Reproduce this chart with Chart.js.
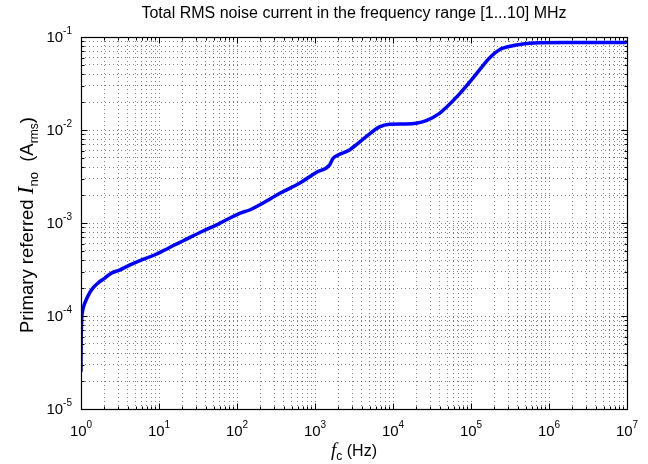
<!DOCTYPE html>
<html>
<head>
<meta charset="utf-8">
<script src="https://cdn.jsdelivr.net/npm/chart.js@4/dist/chart.umd.min.js"></script>
<style>
  html, body { margin: 0; padding: 0; background: #fff; }
  #c { display: block; }
</style>
</head>
<body>
<canvas id="c" width="648" height="464"></canvas>
<script>
// cutoff frequency (Hz) and total rms noise current (A rms)
const freqHz = [1, 1.005, 1.015, 1.055, 1.14, 1.28, 1.42, 1.64, 2.0, 2.44, 3.12, 4.19, 5.91, 8.75,
  11.8, 15.8, 20.2, 35, 54, 108, 145, 386, 632, 1036, 1535, 1690, 1900, 2767, 4530, 6714, 9020,
  14000, 19800, 26650, 39500, 48100, 71300, 105400, 141600, 172600, 231800, 343600, 562000,
  758000, 1.5e6, 3e6, 6e6, 9.5e6, 1e7];
const noiseArms = [2.52e-5, 5.0e-5, 8.3e-5, 1.16e-4, 1.43e-4, 1.75e-4, 1.99e-4, 2.25e-4, 2.54e-4, 2.88e-4,
  3.12e-4, 3.53e-4, 4.0e-4, 4.53e-4, 5.12e-4, 5.8e-4, 6.4e-4, 8.05e-4, 9.5e-4, 1.27e-3, 1.38e-3, 2.17e-3,
  2.67e-3, 3.5e-3, 4.2e-3, 4.9e-3, 5.3e-3, 6.1e-3, 8.47e-3, 1.08e-2, 1.15e-2, 1.16e-2, 1.18e-2,
  1.26e-2, 1.51e-2, 1.75e-2, 2.45e-2, 3.6e-2, 4.9e-2, 5.95e-2, 7.3e-2, 8.05e-2, 8.55e-2, 8.68e-2,
  8.72e-2, 8.72e-2, 8.72e-2, 8.75e-2, 9.0e-2];

const xExponents = [0, 1, 2, 3, 4, 5, 6, 7];
const yExponents = [-5, -4, -3, -2, -1];
const titleText = "Total RMS noise current in the frequency range [1...10] MHz";

const SANS = '"Liberation Sans", Arial, sans-serif';
const SERIF = '"Liberation Serif", "Times New Roman", serif';

// 1..9 x 10^n ticks so every minor grid line shows up
function logTicks(lo, hi) {
  const out = [];
  for (let e = lo; e < hi; e++) {
    for (let m = 1; m <= 9; m++) out.push({ value: m * Math.pow(10, e) });
  }
  out.push({ value: Math.pow(10, hi) });
  return out;
}
const isPow10 = v => Math.abs(Math.log10(v) - Math.round(Math.log10(v))) < 1e-9;

const gridOpts = {
  color: 'rgba(0,0,0,0.5)',
  lineWidth: 1,
  drawTicks: false
};

// text runs: [text, font, baseline shift]
function drawRuns(ctx, runs, x, y) {
  let cx = x;
  runs.forEach(([txt, font, dy]) => {
    ctx.font = font;
    ctx.fillText(txt, cx, y + dy);
    cx += ctx.measureText(txt).width;
  });
}
function runsWidth(ctx, runs) {
  let w = 0;
  runs.forEach(([txt, font]) => { ctx.font = font; w += ctx.measureText(txt).width; });
  return w;
}

const deco = {
  id: 'deco',
  afterDraw(chart) {
    const { ctx, chartArea: a, scales: { x, y } } = chart;
    const L = Math.round(a.left) + 0.5, R = Math.round(a.right) + 0.5;
    const T = Math.round(a.top) + 0.5, B = Math.round(a.bottom) + 0.5;
    ctx.save();
    ctx.strokeStyle = '#000';
    ctx.lineWidth = 1;
    ctx.beginPath();
    x.ticks.forEach(t => {
      const px = Math.round(x.getPixelForValue(t.value)) + 0.5;
      const len = isPow10(t.value) ? 6 : 3;
      ctx.moveTo(px, B); ctx.lineTo(px, B - len);
      ctx.moveTo(px, T); ctx.lineTo(px, T + len);
    });
    y.ticks.forEach(t => {
      const py = Math.round(y.getPixelForValue(t.value)) + 0.5;
      const len = isPow10(t.value) ? 6 : 3;
      ctx.moveTo(L, py); ctx.lineTo(L + len, py);
      ctx.moveTo(R, py); ctx.lineTo(R - len, py);
    });
    ctx.stroke();
    ctx.lineWidth = 1.2;
    ctx.strokeRect(L, T, R - L, B - T);

    ctx.fillStyle = '#000';
    ctx.textAlign = 'left';
    ctx.textBaseline = 'alphabetic';
    const bigF = '15px ' + SANS, supF = '10px ' + SANS;

    // x tick labels 10^n
    xExponents.forEach(e => {
      const px = x.getPixelForValue(Math.pow(10, e));
      const runs = [['10', bigF, 0], [String(e), supF, -8]];
      const w = runsWidth(ctx, runs);
      drawRuns(ctx, runs, px - w / 2, 436);
    });
    // y tick labels 10^n
    yExponents.forEach(e => {
      const py = y.getPixelForValue(Math.pow(10, e));
      const runs = [['10', bigF, 0], [String(e), supF, -8]];
      const w = runsWidth(ctx, runs);
      drawRuns(ctx, runs, a.left - 9 - w, py + 5);
    });

    // title
    ctx.font = '16px ' + SANS;
    ctx.textAlign = 'center';
    ctx.fillText(titleText, (a.left + a.right) / 2, 18);
    ctx.textAlign = 'left';

    // x label: f_c (Hz)
    const xl = [['f', 'italic 19px ' + SERIF, 0], ['c', '12px ' + SANS, 4], [' (Hz)', '16px ' + SANS, 0]];
    const xw = runsWidth(ctx, xl);
    drawRuns(ctx, xl, (a.left + a.right) / 2 - xw / 2, 456);

    // y label: Primary referred I_no (A_rms), starting near the bottom like the original
    const yl = [['Primary referred ', '18.5px ' + SANS, 0], ['I', 'italic 23px ' + SERIF, 0],
      ['no', '13px ' + SANS, 5], ['  (A', '18.5px ' + SANS, 0], ['rms', '12px ' + SANS, 5], [')', '18.5px ' + SANS, 0]];
    ctx.translate(33, 333);
    ctx.rotate(-Math.PI / 2);
    drawRuns(ctx, yl, 0, 0);
    ctx.restore();
  }
};

new Chart(document.getElementById('c'), {
  type: 'line',
  data: {
    datasets: [{
      data: freqHz.map((f, i) => ({ x: f, y: noiseArms[i] })),
      borderColor: '#0000ff',
      borderWidth: 3.5,
      pointRadius: 0,
      cubicInterpolationMode: 'monotone',
      fill: false
    }]
  },
  options: {
    responsive: false,
    animation: false,
    devicePixelRatio: 1,
    layout: { padding: { left: 81, top: 37, right: 21, bottom: 55 } },
    plugins: { legend: { display: false }, tooltip: { enabled: false }, title: { display: false } },
    scales: {
      x: {
        type: 'logarithmic', min: 1, max: 1e7,
        afterBuildTicks: s => { s.ticks = logTicks(0, 7); },
        afterFit: s => { s.height = 0; },
        ticks: { display: false },
        grid: gridOpts,
        border: { display: false, dash: [1, 3] }
      },
      y: {
        type: 'logarithmic', min: 1e-5, max: 1e-1,
        afterBuildTicks: s => { s.ticks = logTicks(-5, -1); },
        afterFit: s => { s.width = 0; },
        ticks: { display: false },
        grid: gridOpts,
        border: { display: false, dash: [1, 3] }
      }
    }
  },
  plugins: [deco]
});
</script>
</body>
</html>
